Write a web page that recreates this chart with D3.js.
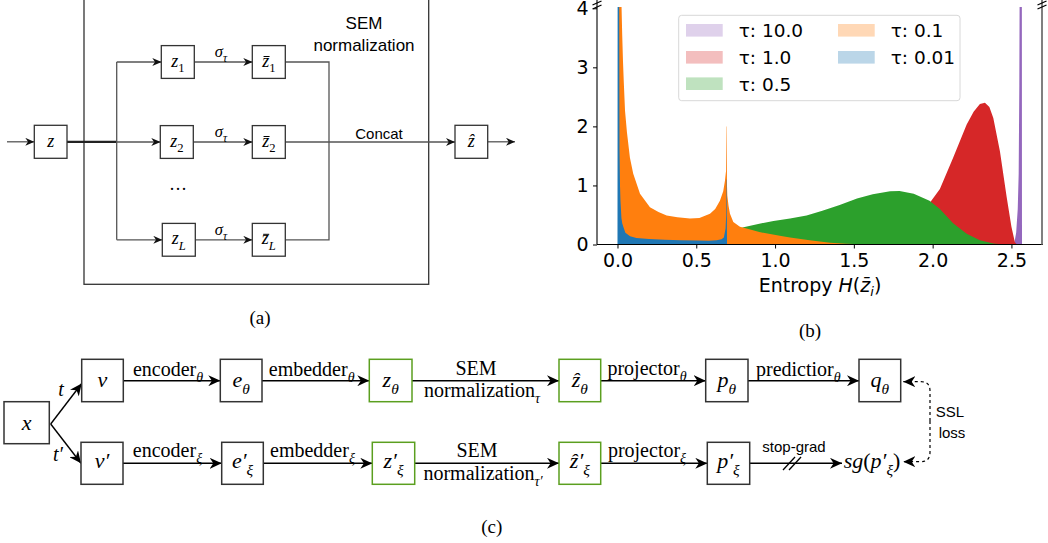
<!DOCTYPE html>
<html><head><meta charset="utf-8">
<script src="https://cdn.jsdelivr.net/npm/d3@7"></script>
<style>html,body{margin:0;padding:0;background:#fff;} svg{display:block}</style>
</head><body>
<svg id="fig" width="1048" height="543"></svg>
<script>
// ---------------- DATA (panel b) ----------------
const tauLabels = ["τ: 10.0", "τ: 1.0", "τ: 0.5", "τ: 0.1", "τ: 0.01"];
const tauColors = ["#9467bd", "#d62728", "#2ca02c", "#ff7f0e", "#1f77b4"];

const entropyTau10 = [2.505, 2.52, 2.53, 2.54, 2.546, 2.55, 2.553, 2.566, 2.567];
const densityTau10 = [0, 0.05, 0.2, 0.6, 1.2, 2.7, 5, 5, 0];

const entropyTau1 = [1.0, 1.2, 1.4, 1.52, 1.62, 1.73, 1.83, 1.92, 1.98, 2.046, 2.13, 2.216, 2.26, 2.30, 2.332, 2.36, 2.385, 2.427, 2.47, 2.50, 2.522, 2.535];
const densityTau1 = [0, 0.03, 0.08, 0.13, 0.19, 0.30, 0.43, 0.60, 0.70, 0.94, 1.47, 2.03, 2.25, 2.38, 2.40, 2.33, 2.14, 1.58, 0.80, 0.30, 0.04, 0];

const entropyTau05 = [0.5, 0.6, 0.7, 0.8, 0.9, 0.99, 1.095, 1.2, 1.3, 1.41, 1.52, 1.62, 1.73, 1.79, 1.88, 1.98, 2.046, 2.13, 2.216, 2.3, 2.385, 2.45];
const densityTau05 = [0, 0.08, 0.18, 0.29, 0.35, 0.40, 0.44, 0.49, 0.57, 0.67, 0.78, 0.85, 0.90, 0.905, 0.86, 0.74, 0.60, 0.36, 0.18, 0.07, 0.015, 0];

const entropyTau01 = [0.004, 0.005, 0.022, 0.026, 0.030, 0.035, 0.040, 0.048, 0.060, 0.079, 0.100, 0.143, 0.206, 0.260, 0.312, 0.380, 0.460, 0.520, 0.587, 0.620, 0.650, 0.671, 0.682, 0.689, 0.6915, 0.6935, 0.695, 0.697, 0.705, 0.714, 0.735, 0.777, 0.820, 0.900, 1.030, 1.095, 1.220, 1.350, 1.450, 1.550, 1.620];
const densityTau01 = [0, 5, 5, 4.0, 3.55, 3.1, 2.75, 2.26, 1.90, 1.47, 1.20, 0.86, 0.63, 0.55, 0.49, 0.46, 0.44, 0.45, 0.52, 0.60, 0.74, 0.90, 1.08, 1.25, 2.0, 2.0, 1.0, 0.83, 0.65, 0.52, 0.38, 0.30, 0.27, 0.21, 0.15, 0.12, 0.07, 0.03, 0.012, 0.004, 0];

const entropyTau001 = [0.000, 0.001, 0.010, 0.013, 0.016, 0.019, 0.025, 0.030, 0.037, 0.050, 0.080, 0.120, 0.200, 0.300, 0.400, 0.500, 0.580, 0.630, 0.660, 0.675, 0.686, 0.690, 0.6915, 0.6935, 0.695];
const densityTau001 = [0, 5, 5, 1.6, 1.0, 0.74, 0.45, 0.36, 0.30, 0.20, 0.14, 0.11, 0.095, 0.08, 0.072, 0.066, 0.065, 0.07, 0.09, 0.12, 0.27, 0.5, 1.1, 1.1, 0];

const xTicks = [0, 0.5, 1.0, 1.5, 2.0, 2.5];
const yTicks = [0, 1, 2, 3, 4];

// ---------------- DIAGRAM LABELS ----------------
const branchSubs = ["1", "2", "L"];

const svg = d3.select('#fig');
const SERIF = "'Liberation Serif', 'Times New Roman', serif";
const SANS = "'Liberation Sans', Arial, sans-serif";
const DJV = "'DejaVu Sans', sans-serif";

const defs = svg.append('defs');
function marker(id, L, H, color) {
  defs.append('marker').attr('id', id).attr('markerUnits', 'userSpaceOnUse')
    .attr('markerWidth', L).attr('markerHeight', H).attr('refX', L).attr('refY', H / 2)
    .attr('orient', 'auto').attr('viewBox', `0 0 ${L} ${H}`)
    .append('path').attr('d', `M0,0L${L},${H / 2}L0,${H}L${L * 0.3},${H / 2}Z`).attr('fill', color);
}
marker('arrA', 9, 8, '#111');
marker('arrC', 12, 11, '#000');

// math-ish text helper
function tex(parent, x, y, segs, size, anchor = 'middle', family = SERIF) {
  const t = parent.append('text').attr('x', x).attr('y', y)
    .attr('font-family', family).attr('font-size', size)
    .attr('text-anchor', anchor).attr('fill', '#000');
  let cur = 0;
  segs.forEach(s => {
    let target = s.pos === 'sub' ? size * 0.32 : s.pos === 'sup' ? -size * 0.38 : 0;
    if (s.pos === 'prime') target = -size * 0.05;
    const fs = s.pos === 'prime' ? size * 0.9 : (s.pos ? size * 0.7 : size);
    const sp = t.append('tspan').text(s.t)
      .attr('dy', target - cur)
      .attr('font-size', fs)
      .attr('font-style', s.i ? 'italic' : 'normal');
    if (s.dx) sp.attr('dx', s.dx);
    cur = target;
  });
  return t;
}
// draw a bar over the first character of a text element
function barOver(t, w) {
  const e = t.node().getExtentOfChar(0);
  d3.select(t.node().parentNode).append('line')
    .attr('x1', e.x + e.width * 0.2).attr('x2', e.x + e.width * 0.2 + w)
    .attr('y1', e.y + e.height * 0.3).attr('y2', e.y + e.height * 0.3)
    .attr('stroke', '#000').attr('stroke-width', 1);
}
function box(g, x0, y0, x1, y1, stroke, sw) {
  g.append('rect').attr('x', x0).attr('y', y0).attr('width', x1 - x0).attr('height', y1 - y0)
    .attr('fill', '#fff').attr('stroke', stroke).attr('stroke-width', sw);
}
function path(g, d, stroke, sw, mk, dash) {
  const p = g.append('path').attr('d', d).attr('fill', 'none').attr('stroke', stroke).attr('stroke-width', sw);
  if (mk) p.attr('marker-end', `url(#${mk})`);
  if (dash) p.attr('stroke-dasharray', dash);
  return p;
}

// ================= PANEL (a) =================
const gA = svg.append('g');
const lnA = '#555';
gA.append('rect').attr('x', 84).attr('y', -3).attr('width', 344.7).attr('height', 287.3)
  .attr('fill', 'none').attr('stroke', '#333').attr('stroke-width', 1.3);
gA.append('text').attr('x', 364).attr('y', 29).attr('text-anchor', 'middle')
  .attr('font-family', SANS).attr('font-size', 17).text('SEM');
gA.append('text').attr('x', 364).attr('y', 51).attr('text-anchor', 'middle')
  .attr('font-family', SANS).attr('font-size', 17).text('normalization');

const branchY = [62, 142, 239.8];
const zLeft = [161.3, 160.3, 162.3];
path(gA, 'M7,141.8H34.3', lnA, 1.3, 'arrA');
path(gA, 'M67,141.8H116.7', '#222', 2.2);
path(gA, `M116.7,${branchY[0]}V${branchY[2]}`, lnA, 1.3);
branchY.forEach((by, i) => {
  path(gA, `M116.7,${by}H${zLeft[i]}`, lnA, 1.3, 'arrA');
  path(gA, `M${zLeft[i] + 33},${by}H252.3`, lnA, 1.3, 'arrA');
  tex(gA, 221, by - 5, [{t: 'σ', i: true}, {t: 'τ', i: true, pos: 'sub'}], 16.5);
});
path(gA, `M285.3,${branchY[0]}H329V${branchY[2]}H285.3`, lnA, 1.3);
path(gA, `M285.3,${branchY[1]}H455`, lnA, 1.3, 'arrA');
path(gA, 'M487.7,141.8H515', lnA, 1.3, 'arrA');
gA.append('text').attr('x', 379).attr('y', 138.5).attr('text-anchor', 'middle')
  .attr('font-family', SANS).attr('font-size', 15).text('Concat');

box(gA, 34.3, 125.3, 67, 158.3, '#333', 1.3);
tex(gA, 50.7, 146.5, [{t: 'z', i: true}], 18);
branchY.forEach((by, i) => {
  box(gA, zLeft[i], by - 16.4, zLeft[i] + 33, by + 16.4, '#333', 1.3);
  tex(gA, zLeft[i] + 16.5, by + 4.5, [{t: 'z', i: true}, {t: branchSubs[i], i: branchSubs[i] === 'L', pos: 'sub'}], 18);
  box(gA, 252.3, by - 16.4, 285.3, by + 16.4, '#333', 1.3);
  const tb = tex(gA, 268.8, by + 4.5, [{t: 'z', i: true}, {t: branchSubs[i], i: branchSubs[i] === 'L', pos: 'sub'}], 18);
  barOver(tb, 6);
});
gA.append('text').attr('x', 178).attr('y', 195).attr('text-anchor', 'middle')
  .attr('font-family', SERIF).attr('font-size', 18).text('···');
box(gA, 455, 125.3, 487.7, 158.3, '#333', 1.3);
tex(gA, 471.3, 146.5, [{t: 'z\u0302', i: true}], 18);
gA.append('text').attr('x', 260).attr('y', 324).attr('text-anchor', 'middle')
  .attr('font-family', SERIF).attr('font-size', 19).text('(a)');

// ================= PANEL (b) =================
const gB = svg.append('g');
const L = 597, R = 1042, T = 7.1, B = 244.5;
const x = d3.scaleLinear().domain([-0.13, 2.694]).range([L, R]);
const y = d3.scaleLinear().domain([0, 4.02]).range([B, T]);
defs.append('clipPath').attr('id', 'plotclip').append('rect')
  .attr('x', L).attr('y', T).attr('width', R - L).attr('height', B - T);

const seriesX = [entropyTau10, entropyTau1, entropyTau05, entropyTau01, entropyTau001];
const seriesY = [densityTau10, densityTau1, densityTau05, densityTau01, densityTau001];
const area = d3.area().x(d => x(d[0])).y0(y(0)).y1(d => y(d[1]));
const gPlot = gB.append('g').attr('clip-path', 'url(#plotclip)');
seriesX.forEach((xs, k) => {
  const pts = xs.map((v, j) => [v, seriesY[k][j]]);
  gPlot.append('path').datum(pts).attr('d', area).attr('fill', tauColors[k]).attr('stroke', 'none');
});

const xAxis = gB.append('g').attr('transform', `translate(0,${B})`)
  .call(d3.axisBottom(x).tickValues(xTicks).tickFormat(d3.format('.1f')).tickSize(4).tickPadding(5));
const yAxis = gB.append('g').attr('transform', `translate(${L},0)`)
  .call(d3.axisLeft(y).tickValues(yTicks).tickFormat(d3.format('d')).tickSize(4).tickPadding(4.5));
[xAxis, yAxis].forEach(a => {
  a.select('.domain').remove();
  a.selectAll('text').attr('font-family', DJV).attr('font-size', 19).attr('fill', '#000');
  a.selectAll('line').attr('stroke', '#000').attr('stroke-width', 1);
});
gB.append('line').attr('x1', L).attr('x2', L).attr('y1', 0).attr('y2', B).attr('stroke', '#000').attr('stroke-width', 1.1);
gB.append('line').attr('x1', L).attr('x2', R + 1).attr('y1', B).attr('y2', B).attr('stroke', '#000').attr('stroke-width', 1.1);
gB.append('line').attr('x1', R).attr('x2', R).attr('y1', 0).attr('y2', B).attr('stroke', '#808080').attr('stroke-width', 2);
// break marks
[L, R].forEach(bx => {
  [-2, 2].forEach(o => {
    gB.append('line').attr('x1', bx - 4.5).attr('y1', 7 + o).attr('x2', bx + 4.5).attr('y2', 3 + o)
      .attr('stroke', '#000').attr('stroke-width', 1.2);
  });
});

// x label
const xl = gB.append('text').attr('x', 820).attr('y', 292).attr('text-anchor', 'middle')
  .attr('font-family', DJV).attr('font-size', 19).attr('fill', '#000');
xl.append('tspan').text('Entropy ');
xl.append('tspan').attr('font-style', 'italic').text('H');
xl.append('tspan').text('(');
xl.append('tspan').attr('font-style', 'italic').text('z\u0304');
xl.append('tspan').attr('font-style', 'italic').attr('font-size', 13).attr('dy', 4).text('i');
xl.append('tspan').attr('dy', -4).text(')');

// legend
const lg = gB.append('g');
lg.append('rect').attr('x', 678.7).attr('y', 15.3).attr('width', 281.3).attr('height', 85.4)
  .attr('rx', 3).attr('fill', '#fff').attr('fill-opacity', 0.8).attr('stroke', '#d8d8d8').attr('stroke-width', 1);
const legCols = [[686, 738.7], [838, 890.7]];
const legRows = [30.3, 57.3, 83.7];
tauLabels.forEach((lab, k) => {
  const col = k < 3 ? 0 : 1, row = k < 3 ? k : k - 3;
  lg.append('rect').attr('x', legCols[col][0]).attr('y', legRows[row] - 6.3).attr('width', 36.7).attr('height', 12.6)
    .attr('fill', tauColors[k]).attr('fill-opacity', 0.3);
  lg.append('text').attr('x', legCols[col][1]).attr('y', legRows[row] + 6.8)
    .attr('font-family', DJV).attr('font-size', 18.5).attr('fill', '#000').text(lab);
});
gB.append('text').attr('x', 810).attr('y', 337).attr('text-anchor', 'middle')
  .attr('font-family', SERIF).attr('font-size', 19).text('(b)');

// ================= PANEL (c) =================
const gC = svg.append('g');
const GREEN = '#5b9f1f';
const topY = [359.3, 401.7], botY = [442.3, 484.3];
const yT = 380.7, yBt = 463.3;
// arrows
path(gC, 'M50.7,424L81.7,383.5', '#000', 1.4, 'arrC');
path(gC, 'M50.7,424L81,463.3', '#000', 1.4, 'arrC');
[[123.3, 220.3], [262, 369.3], [412, 559], [600.7, 705.7], [748, 859]].forEach(([a, b]) =>
  path(gC, `M${a},${yT}H${b}`, '#000', 1.4, 'arrC'));
[[123, 221.7], [263.3, 372.3], [414.7, 559], [600.7, 707.3], [749.7, 842]].forEach(([a, b]) =>
  path(gC, `M${a},${yBt}H${b}`, '#000', 1.4, 'arrC'));
// stop-grad slashes
[[783, 470, 795, 457], [789, 470, 801, 457]].forEach(s =>
  gC.append('line').attr('x1', s[0]).attr('y1', s[1]).attr('x2', s[2]).attr('y2', s[3]).attr('stroke', '#000').attr('stroke-width', 1.3));
// SSL loss dashed
path(gC, 'M930,421V391Q930,381.7 921,381.7H903.3', '#000', 1.2, 'arrC', '3,3');
path(gC, 'M930,421V452Q930,461.7 921,461.7H903.3', '#000', 1.2, 'arrC', '3,3');

// boxes
box(gC, 4, 401.7, 49.3, 443.7, '#333', 1.5);
tex(gC, 26.7, 429.5, [{t: 'x', i: true}], 22);
const topBoxes = [
  [81.7, 123.3, '#333', [{t: 'v', i: true}]],
  [220.3, 262, '#333', [{t: 'e', i: true}, {t: 'θ', i: true, pos: 'sub'}]],
  [369.3, 412, GREEN, [{t: 'z', i: true}, {t: 'θ', i: true, pos: 'sub'}]],
  [559, 600.7, GREEN, [{t: 'z\u0302', i: true}, {t: 'θ', i: true, pos: 'sub'}]],
  [705.7, 748, '#333', [{t: 'p', i: true}, {t: 'θ', i: true, pos: 'sub'}]],
  [859, 900.7, '#333', [{t: 'q', i: true}, {t: 'θ', i: true, pos: 'sub'}]]
];
topBoxes.forEach(b => {
  box(gC, b[0], topY[0], b[1], topY[1], b[2], 1.5);
  tex(gC, (b[0] + b[1]) / 2, yT + 6.5, b[3], 22);
});
const pr = (base) => [{t: base + '′', i: true}, {t: 'ξ', i: true, pos: 'sub'}];
const botBoxes = [
  [81, 123, '#333', [{t: 'v′', i: true}]],
  [221.7, 263.3, '#333', pr('e')],
  [372.3, 414.7, GREEN, pr('z')],
  [559, 600.7, GREEN, pr('z\u0302')],
  [707.3, 749.7, '#333', pr('p')]
];
botBoxes.forEach(b => {
  box(gC, b[0], botY[0], b[1], botY[1], b[2], 1.5);
  tex(gC, (b[0] + b[1]) / 2, yBt + 5, b[3], 22);
});
tex(gC, 872, yBt + 5, [{t: 'sg', i: true}, {t: '('}, {t: 'p′', i: true}, {t: 'ξ', i: true, pos: 'sub'}, {t: ')'}], 22);

// edge labels
tex(gC, 61, 396, [{t: 't', i: true}], 20);
tex(gC, 58, 461, [{t: 't′', i: true}], 20);
tex(gC, 168, 376, [{t: 'encoder'}, {t: 'θ', i: true, pos: 'sub'}], 20);
tex(gC, 311.7, 376, [{t: 'embedder'}, {t: 'θ', i: true, pos: 'sub'}], 20);
tex(gC, 476, 375, [{t: 'SEM'}], 20);
tex(gC, 482, 396.5, [{t: 'normalization'}, {t: 'τ', i: true, pos: 'sub'}], 20);
tex(gC, 647, 375, [{t: 'projector'}, {t: 'θ', i: true, pos: 'sub'}], 20);
tex(gC, 798.3, 375.5, [{t: 'predictior'}, {t: 'θ', i: true, pos: 'sub'}], 20);
tex(gC, 167.5, 457, [{t: 'encoder'}, {t: 'ξ', i: true, pos: 'sub'}], 20);
tex(gC, 312.5, 457, [{t: 'embedder'}, {t: 'ξ', i: true, pos: 'sub'}], 20);
tex(gC, 477, 457.3, [{t: 'SEM'}], 20);
tex(gC, 483, 480, [{t: 'normalization'}, {t: 'τ′', i: true, pos: 'sub'}], 20);
tex(gC, 647, 457, [{t: 'projector'}, {t: 'ξ', i: true, pos: 'sub'}], 20);
gC.append('text').attr('x', 794).attr('y', 452).attr('text-anchor', 'middle')
  .attr('font-family', SANS).attr('font-size', 15).text('stop-grad');
gC.append('text').attr('x', 950).attr('y', 417).attr('text-anchor', 'middle')
  .attr('font-family', SANS).attr('font-size', 15).text('SSL');
gC.append('text').attr('x', 952).attr('y', 437.5).attr('text-anchor', 'middle')
  .attr('font-family', SANS).attr('font-size', 15).text('loss');
gC.append('text').attr('x', 491.7).attr('y', 533).attr('text-anchor', 'middle')
  .attr('font-family', SERIF).attr('font-size', 19).text('(c)');
</script>
</body></html>
